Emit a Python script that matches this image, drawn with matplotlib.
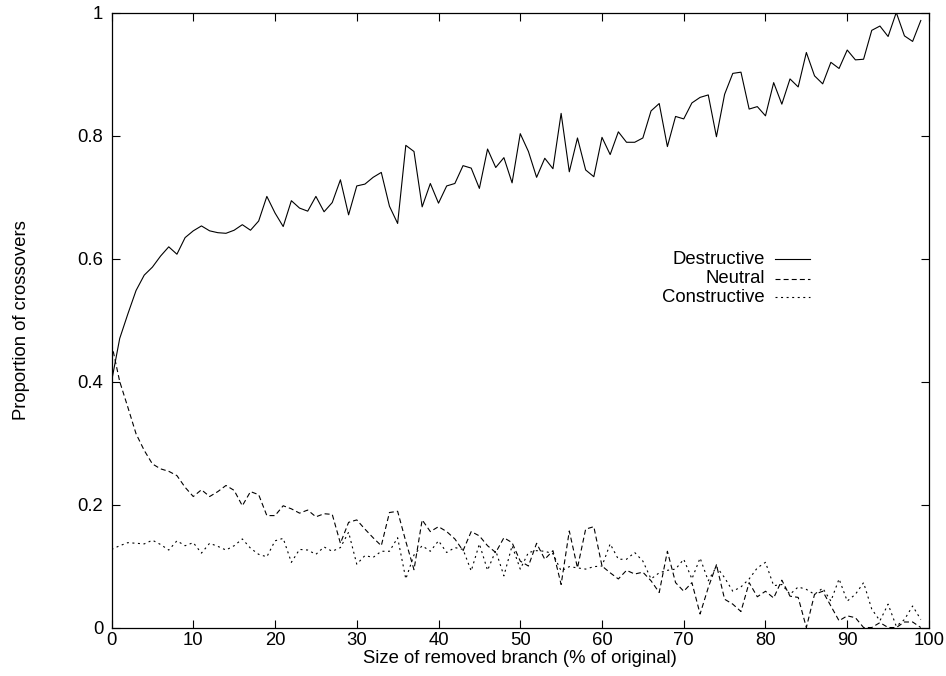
import matplotlib
matplotlib.use("Agg")
import matplotlib.pyplot as plt
import numpy as np
from matplotlib.lines import Line2D

plt.rcParams['font.family'] = ['Liberation Sans', 'DejaVu Sans']

size_pct = list(range(100))

destructive = [0.40, 0.47, 0.51, 0.548, 0.573, 0.586, 0.604, 0.619, 0.607, 0.634,
               0.645, 0.653, 0.645, 0.642, 0.641, 0.646, 0.655, 0.646, 0.661, 0.701,
               0.674, 0.652, 0.694, 0.682, 0.677, 0.701, 0.676, 0.691, 0.728, 0.671,
               0.718, 0.721, 0.732, 0.740, 0.685, 0.657, 0.784, 0.774, 0.684, 0.722,
               0.690, 0.718, 0.722, 0.751, 0.747, 0.714, 0.778, 0.748, 0.764, 0.723,
               0.803, 0.774, 0.732, 0.763, 0.746, 0.836, 0.741, 0.796, 0.744, 0.733,
               0.797, 0.769, 0.806, 0.789, 0.789, 0.796, 0.840, 0.852, 0.782, 0.831,
               0.827, 0.853, 0.862, 0.866, 0.798, 0.867, 0.901, 0.903, 0.843, 0.847,
               0.832, 0.886, 0.851, 0.892, 0.879, 0.935, 0.897, 0.884, 0.919, 0.909,
               0.939, 0.923, 0.924, 0.971, 0.978, 0.961, 1.000, 0.962, 0.953, 0.987]

neutral = [0.462, 0.400, 0.358, 0.315, 0.288, 0.266, 0.258, 0.254, 0.247, 0.228,
           0.213, 0.224, 0.213, 0.221, 0.231, 0.223, 0.198, 0.221, 0.216, 0.182,
           0.182, 0.198, 0.193, 0.186, 0.191, 0.180, 0.185, 0.184, 0.137, 0.171,
           0.175, 0.160, 0.146, 0.133, 0.187, 0.189, 0.140, 0.094, 0.175, 0.156,
           0.164, 0.156, 0.144, 0.125, 0.156, 0.149, 0.133, 0.122, 0.146, 0.138,
           0.108, 0.100, 0.137, 0.111, 0.125, 0.070, 0.157, 0.097, 0.160, 0.164,
           0.100, 0.089, 0.079, 0.093, 0.087, 0.090, 0.076, 0.057, 0.124, 0.073,
           0.059, 0.073, 0.022, 0.065, 0.102, 0.046, 0.038, 0.026, 0.073, 0.050,
           0.059, 0.048, 0.077, 0.051, 0.049, 0.000, 0.054, 0.059, 0.035, 0.011,
           0.019, 0.016, 0.000, 0.000, 0.008, 0.000, 0.000, 0.009, 0.009, 0.000]

constructive = [0.127, 0.133, 0.138, 0.137, 0.136, 0.142, 0.135, 0.126, 0.141, 0.133,
                0.138, 0.121, 0.137, 0.132, 0.126, 0.133, 0.144, 0.129, 0.119, 0.115,
                0.141, 0.145, 0.106, 0.127, 0.126, 0.119, 0.131, 0.124, 0.130, 0.155,
                0.103, 0.117, 0.114, 0.124, 0.124, 0.146, 0.079, 0.118, 0.133, 0.124,
                0.141, 0.122, 0.130, 0.127, 0.092, 0.136, 0.093, 0.125, 0.084, 0.133,
                0.095, 0.122, 0.125, 0.124, 0.120, 0.092, 0.099, 0.097, 0.095, 0.099,
                0.100, 0.136, 0.111, 0.111, 0.122, 0.108, 0.079, 0.089, 0.093, 0.095,
                0.111, 0.079, 0.113, 0.076, 0.099, 0.081, 0.059, 0.066, 0.079, 0.097,
                0.106, 0.068, 0.070, 0.054, 0.066, 0.062, 0.054, 0.064, 0.043, 0.079,
                0.043, 0.054, 0.073, 0.030, 0.011, 0.038, 0.002, 0.013, 0.035, 0.013]

labels = ["Destructive", "Neutral", "Constructive"]
xticks = [0, 10, 20, 30, 40, 50, 60, 70, 80, 90, 100]
yticks = [0, 0.2, 0.4, 0.6, 0.8, 1.0]
ytick_labels = ["0", "0.2", "0.4", "0.6", "0.8", "1"]

lw = 0.8
fs = 13.3
styles = [dict(ls='-'),
          dict(ls=(0, (4.5, 2.8))),
          dict(ls=(0, (1.8, 3.2)))]

fig = plt.figure(figsize=(9.46, 6.76), dpi=100)
ax = fig.add_axes([0.1179, 0.0717, 0.8641, 0.9098])

series = [destructive, neutral, constructive]
for s, st in zip(series, styles):
    ax.plot(size_pct, s, color='black', lw=lw, **st)

ax.set_xlim(0, 100)
ax.set_ylim(0, 1)
ax.set_xticks(xticks)
ax.set_xticklabels([str(t) for t in xticks])
ax.set_yticks(yticks)
ax.set_yticklabels(ytick_labels)
ax.tick_params(direction='in', length=6, width=0.8, top=True, right=True,
               labelsize=fs, colors='black')
ax.tick_params(axis='x', pad=3)
ax.tick_params(axis='y', pad=6)
for sp in ax.spines.values():
    sp.set_linewidth(0.9)

ax.set_xlabel("Size of removed branch (% of original)", fontsize=fs, labelpad=1)
ax.set_ylabel("Proportion of crossovers", fontsize=fs, labelpad=34)

# gnuplot-style key: right-aligned text, line sample on the right
ys = [0.599, 0.567, 0.537]
for lab, y, st in zip(labels, ys, styles):
    ax.text(0.799, y, lab, transform=ax.transAxes, ha='right', va='center', fontsize=fs)
    ax.add_line(Line2D([0.812, 0.855], [y, y], transform=ax.transAxes,
                       color='black', lw=lw, **st))

fig.savefig("out.png", dpi=100)
